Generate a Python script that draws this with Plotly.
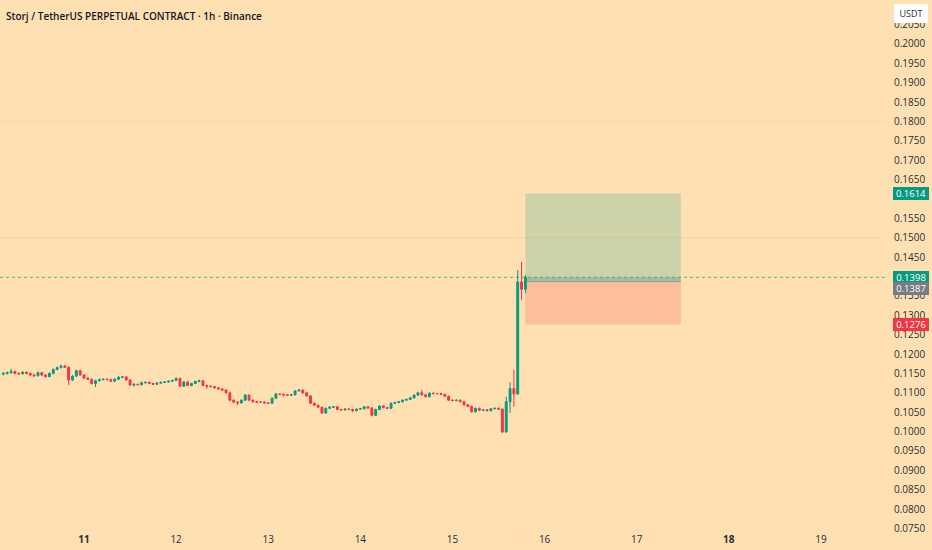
import pandas as pd
import plotly.graph_objects as go

# ---------------- data ----------------
start_time = "2023-09-10 03:00"
opens = [0.1148,0.1150,0.1152,0.1155,0.1150,0.1149,0.1153,0.1150,0.1146,0.1144,
         0.1152,0.1146,0.1142,0.1150,0.1160,0.1165,0.1169,0.1166,0.1133,0.1143,
         0.1157,0.1146,0.1138,0.1135,0.1124,0.1131,0.1134,0.1135,0.1134,0.1130,
         0.1135,0.1140,0.1141,0.1133,0.1120,0.1122,0.1121,0.1126,0.1127,0.1124,
         0.1122,0.1125,0.1127,0.1128,0.1130,0.1132,0.1137,0.1117,0.1128,0.1119,
         0.1124,0.1129,0.1131,0.1119,0.1117,0.1116,0.1113,0.1110,0.1107,0.1100,
         0.1081,0.1076,0.1074,0.1081,0.1094,0.1081,0.1077,0.1076,0.1076,0.1074,
         0.1073,0.1086,0.1097,0.1096,0.1095,0.1094,0.1095,0.1105,0.1107,0.1100,
         0.1092,0.1073,0.1068,0.1063,0.1048,0.1060,0.1063,0.1064,0.1057,0.1056,
         0.1058,0.1057,0.1054,0.1058,0.1059,0.1064,0.1061,0.1042,0.1057,0.1066,
         0.1062,0.1060,0.1073,0.1075,0.1077,0.1081,0.1083,0.1087,0.1094,0.1100,
         0.1095,0.1090,0.1099,0.1098,0.1098,0.1096,0.1091,0.1081,0.1080,0.1081,
         0.1077,0.1069,0.1065,0.1051,0.1060,0.1055,0.1056,0.1054,0.1059,0.1060,
         0.1058,0.0999,0.1077,0.1111,0.1097,0.1386,0.1367]
highs = [0.1154,0.1155,0.1162,0.1157,0.1153,0.1156,0.1155,0.1152,0.1149,0.1155,
         0.1154,0.1148,0.1153,0.1163,0.1168,0.1173,0.1172,0.1168,0.1146,0.1160,
         0.1159,0.1148,0.1140,0.1137,0.1134,0.1137,0.1137,0.1137,0.1136,0.1138,
         0.1143,0.1143,0.1143,0.1135,0.1125,0.1124,0.1129,0.1129,0.1129,0.1126,
         0.1127,0.1129,0.1130,0.1132,0.1134,0.1140,0.1139,0.1131,0.1130,0.1126,
         0.1132,0.1134,0.1133,0.1121,0.1119,0.1118,0.1115,0.1112,0.1109,0.1103,
         0.1083,0.1078,0.1083,0.1097,0.1096,0.1083,0.1079,0.1078,0.1078,0.1076,
         0.1088,0.1100,0.1099,0.1098,0.1097,0.1097,0.1107,0.1110,0.1109,0.1102,
         0.1094,0.1075,0.1070,0.1065,0.1062,0.1065,0.1066,0.1066,0.1059,0.1060,
         0.1060,0.1059,0.1060,0.1061,0.1066,0.1066,0.1063,0.1059,0.1068,0.1068,
         0.1064,0.1075,0.1077,0.1079,0.1083,0.1085,0.1089,0.1096,0.1103,0.1108,
         0.1097,0.1101,0.1101,0.1100,0.1100,0.1098,0.1093,0.1083,0.1083,0.1083,
         0.1079,0.1071,0.1067,0.1062,0.1062,0.1058,0.1058,0.1061,0.1062,0.1062,
         0.1060,0.1090,0.1127,0.1159,0.1417,0.1438,0.1404]
lows = [0.1145,0.1147,0.1149,0.1148,0.1146,0.1147,0.1148,0.1143,0.1141,0.1142,
        0.1143,0.1139,0.1140,0.1148,0.1158,0.1163,0.1164,0.1120,0.1130,0.1141,
        0.1144,0.1136,0.1133,0.1121,0.1115,0.1129,0.1132,0.1132,0.1128,0.1128,
        0.1133,0.1138,0.1131,0.1118,0.1116,0.1119,0.1119,0.1124,0.1122,0.1120,
        0.1120,0.1123,0.1125,0.1126,0.1128,0.1130,0.1115,0.1115,0.1117,0.1117,
        0.1122,0.1127,0.1117,0.1110,0.1114,0.1111,0.1108,0.1105,0.1098,0.1078,
        0.1073,0.1068,0.1072,0.1079,0.1079,0.1075,0.1074,0.1074,0.1072,0.1071,
        0.1071,0.1084,0.1094,0.1090,0.1092,0.1092,0.1093,0.1103,0.1098,0.1090,
        0.1071,0.1066,0.1061,0.1045,0.1046,0.1058,0.1061,0.1055,0.1054,0.1054,
        0.1055,0.1050,0.1052,0.1056,0.1057,0.1059,0.1039,0.1040,0.1055,0.1060,
        0.1058,0.1058,0.1071,0.1073,0.1075,0.1079,0.1081,0.1085,0.1092,0.1093,
        0.1088,0.1088,0.1096,0.1096,0.1094,0.1089,0.1079,0.1078,0.1078,0.1075,
        0.1067,0.1063,0.1049,0.1049,0.1053,0.1053,0.1052,0.1052,0.1057,0.1056,
        0.0996,0.0997,0.1048,0.1064,0.1095,0.1339,0.1357]
closes = [0.1150,0.1152,0.1155,0.1150,0.1149,0.1153,0.1150,0.1146,0.1144,0.1152,
          0.1146,0.1142,0.1150,0.1160,0.1165,0.1169,0.1166,0.1133,0.1143,0.1157,
          0.1146,0.1138,0.1135,0.1124,0.1131,0.1134,0.1135,0.1134,0.1130,0.1135,
          0.1140,0.1141,0.1133,0.1120,0.1122,0.1121,0.1126,0.1127,0.1124,0.1122,
          0.1125,0.1127,0.1128,0.1130,0.1132,0.1137,0.1117,0.1128,0.1119,0.1124,
          0.1129,0.1131,0.1119,0.1117,0.1116,0.1113,0.1110,0.1107,0.1100,0.1081,
          0.1076,0.1074,0.1081,0.1094,0.1081,0.1077,0.1076,0.1076,0.1074,0.1073,
          0.1086,0.1097,0.1096,0.1095,0.1094,0.1095,0.1105,0.1107,0.1100,0.1092,
          0.1073,0.1068,0.1063,0.1048,0.1060,0.1063,0.1064,0.1057,0.1056,0.1058,
          0.1057,0.1054,0.1058,0.1059,0.1064,0.1061,0.1042,0.1057,0.1066,0.1062,
          0.1060,0.1073,0.1075,0.1077,0.1081,0.1083,0.1087,0.1094,0.1100,0.1095,
          0.1090,0.1099,0.1098,0.1098,0.1096,0.1091,0.1081,0.1080,0.1081,0.1077,
          0.1069,0.1065,0.1051,0.1060,0.1055,0.1056,0.1054,0.1059,0.1060,0.1058,
          0.0999,0.1077,0.1111,0.1097,0.1386,0.1367,0.1398]

day_ticks = ["2023-09-11", "2023-09-12", "2023-09-13", "2023-09-14", "2023-09-15",
             "2023-09-16", "2023-09-17", "2023-09-18", "2023-09-19"]
day_labels = ["<b>11</b>", "12", "13", "14", "15", "16", "17", "<b>18</b>", "19"]

# price-scale tick labels (those hidden under the price tags are left out)
price_ticks = [0.2050, 0.2000, 0.1950, 0.1900, 0.1850, 0.1800, 0.1750, 0.1700,
               0.1650, 0.1550, 0.1500, 0.1450, 0.1350, 0.1300, 0.1250,
               0.1200, 0.1150, 0.1100, 0.1050, 0.1000, 0.0950, 0.0900, 0.0850,
               0.0800, 0.0750]

# long position tool
pos_time = ["2023-09-15 19:00", "2023-09-17 11:30"]
pos_target = 0.1614
pos_entry = 0.1387
pos_stop = 0.1276
last_price = 0.1398
h_levels = [0.1800, 0.1500]

title_text = "Storj / TetherUS PERPETUAL CONTRACT · 1h · Binance"

# ---------------- figure ----------------
times = pd.date_range(start_time, periods=len(closes), freq="h")

BG = "#FFE0B2"
GREEN = "#089981"
RED = "#F23645"
TXT = "#2a2e39"

fig = go.Figure()
fig.add_trace(go.Candlestick(
    x=times, open=opens, high=highs, low=lows, close=closes,
    increasing=dict(line=dict(color=GREEN, width=1), fillcolor=GREEN),
    decreasing=dict(line=dict(color=RED, width=1), fillcolor=RED),
    whiskerwidth=0, showlegend=False, hoverinfo="skip",
))

shapes = []
for lv in h_levels:
    shapes.append(dict(type="line", xref="paper", x0=0, x1=1, yref="y", y0=lv, y1=lv,
                       line=dict(color="rgba(235,175,115,0.22)", width=1), layer="below"))
shapes += [
    dict(type="rect", xref="x", yref="y", x0=pos_time[0], x1=pos_time[1],
         y0=pos_entry, y1=pos_target, fillcolor="rgba(8,153,129,0.2)",
         line=dict(width=0), layer="below"),
    dict(type="rect", xref="x", yref="y", x0=pos_time[0], x1=pos_time[1],
         y0=pos_stop, y1=pos_entry, fillcolor="rgba(242,54,69,0.2)",
         line=dict(width=0), layer="below"),
    dict(type="rect", xref="x", yref="y", x0=pos_time[0], x1=pos_time[1],
         y0=pos_entry, y1=last_price, fillcolor="rgba(8,153,129,0.25)",
         line=dict(width=0), layer="below"),
    dict(type="line", xref="x", yref="y", x0=pos_time[0], x1=pos_time[1],
         y0=pos_entry, y1=pos_entry, line=dict(color="rgba(120,123,134,0.6)", width=1)),
    dict(type="line", xref="paper", x0=0, x1=1, yref="y", y0=last_price, y1=last_price,
         line=dict(color="rgba(8,153,129,0.7)", width=1, dash="dot")),
]

annotations = [
    dict(xref="paper", yref="paper", x=0.004, y=0.995, xanchor="left", yanchor="top",
         text=title_text, showarrow=False,
         font=dict(family="Open Sans", size=10, color="#131722", weight=600), yshift=-4),
    dict(xref="paper", yref="paper", x=1, y=1, xanchor="left", yanchor="top",
         text="USDT", showarrow=False, xshift=9, yshift=-4,
         font=dict(family="Open Sans", size=9, color=TXT),
         bgcolor="#ffffff", bordercolor="#ffffff", borderpad=2, width=28),
]
price_tags = [
    (pos_target, GREEN, 0),
    (last_price, GREEN, 0),
    (pos_entry, "#787B86", -7),
    (pos_stop, RED, 0),
]
for val, col, ys in price_tags:
    annotations.append(dict(
        xref="paper", yref="y", x=1, y=val, xanchor="left", yanchor="middle",
        text=f"{val:.4f}", showarrow=False, xshift=8, yshift=ys,
        font=dict(family="Open Sans", size=9.5, color="#ffffff"),
        bgcolor=col, bordercolor=col, borderpad=0, width=34, height=11,
    ))

fig.update_layout(
    width=932, height=550,
    margin=dict(l=0, r=47, t=0, b=18),
    paper_bgcolor=BG, plot_bgcolor=BG,
    shapes=shapes, annotations=annotations,
    xaxis=dict(
        range=["2023-09-10 02:07", "2023-09-19 16:41"],
        rangeslider=dict(visible=False),
        tickvals=day_ticks, ticktext=day_labels,
        showgrid=False, zeroline=False, showline=False, ticks="",
        tickfont=dict(family="Open Sans", size=10, color=TXT),
    ),
    yaxis=dict(
        side="right", range=[0.07410, 0.21132],
        tickvals=price_ticks, tickformat=".4f",
        showgrid=False, zeroline=False, showline=False, ticks="",
        ticklabelstandoff=8,
        tickfont=dict(family="Open Sans", size=10, color=TXT),
    ),
    font=dict(family="Open Sans"),
)

fig.write_html(
    "out.html",
    config={"displayModeBar": False},
    post_script="document.body.style.margin='0';document.body.style.padding='0';"
                "document.body.style.overflow='hidden';",
)
